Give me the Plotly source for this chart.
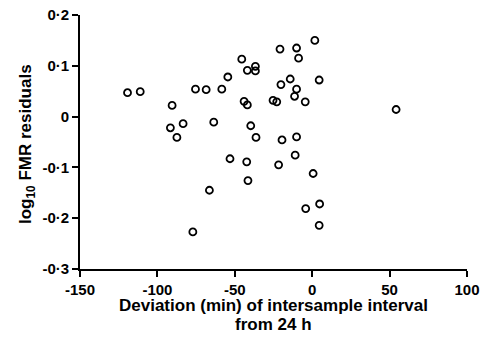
import plotly.graph_objects as go

# Data
deviation_min = [-119.3, -111.1, -90.5, -75.4, -68.5, -58.4, -54.5, -45.5, -41.9, -36.7,
                 -36.7, -44.0, -41.9, -25.3, -22.9, -20.8, -20.2, -14.2, -10.1, -8.8,
                 -10.1, -11.4, -91.6, -83.4, -63.6, -39.7, -87.4, -36.3, -19.5, -10.1,
                 1.7, 4.5, -4.5, 54.2, -53.1, -42.3, -21.7, -11.0, -41.5, -66.4,
                 -77.1, 0.6, 4.8, -4.2, 4.5]
fmr_residuals = [0.047, 0.049, 0.022, 0.054, 0.053, 0.054, 0.078, 0.113, 0.091, 0.099,
                 0.090, 0.030, 0.023, 0.032, 0.029, 0.133, 0.063, 0.074, 0.135, 0.115,
                 0.054, 0.040, -0.022, -0.014, -0.011, -0.018, -0.041, -0.041, -0.046, -0.040,
                 0.150, 0.072, 0.029, 0.014, -0.083, -0.089, -0.095, -0.076, -0.126, -0.145,
                 -0.227, -0.112, -0.172, -0.181, -0.214]

x_tickvals = [-150, -100, -50, 0, 50, 100]
x_ticktext = ["-150", "-100", "-50", "0", "50", "100"]
y_tickvals = [0.2, 0.1, 0, -0.1, -0.2, -0.3]
y_ticktext = ["0·2", "0·1", "0", "-0·1", "-0·2", "-0·3"]

FONT = "Liberation Sans, Arial, Helvetica, sans-serif"

fig = go.Figure()
fig.add_trace(go.Scatter(
    x=deviation_min, y=fmr_residuals, mode="markers",
    marker=dict(symbol="circle-open", size=7, color="black", line=dict(width=1.8, color="black")),
    showlegend=False, cliponaxis=False, hoverinfo="skip",
))

axis_common = dict(
    showline=True, linecolor="black", linewidth=1.8, showgrid=False, zeroline=False,
    ticks="outside", ticklen=6, tickwidth=1.6, tickcolor="black", automargin=False,
    ticklabeloverflow="allow",
    tickfont=dict(family=FONT, size=15, color="black"),
)

fig.update_layout(
    width=482, height=343,
    margin=dict(l=80, r=15, t=15, b=74, autoexpand=False),
    paper_bgcolor="white", plot_bgcolor="white",
    xaxis=dict(range=[-150, 100], tickmode="array", tickvals=x_tickvals,
               ticktext=["<b>%s</b>" % t for t in x_ticktext], **axis_common),
    yaxis=dict(range=[-0.3, 0.2], tickmode="array", tickvals=y_tickvals,
               ticktext=["<b>%s</b>" % t for t in y_ticktext], **axis_common),
    annotations=[
        dict(text="<b>Deviation (min) of intersample interval</b>", xref="paper", yref="paper",
             x=0.5, y=-0.143, xanchor="center", yanchor="middle", showarrow=False,
             font=dict(family=FONT, size=17, color="black")),
        dict(text="<b>from 24 h</b>", xref="paper", yref="paper",
             x=0.5, y=-0.218, xanchor="center", yanchor="middle", showarrow=False,
             font=dict(family=FONT, size=17, color="black")),
        dict(text="<b>log<sub>10</sub> FMR residuals</b>", xref="paper", yref="paper",
             x=-0.137, y=0.492, xanchor="center", yanchor="middle", showarrow=False,
             textangle=-90,
             font=dict(family=FONT, size=17, color="black")),
    ],
)

# remove the default 8px page margin so the 482x343 figure fills the window exactly
fig.write_html(
    "out.html",
    config={"displayModeBar": False},
    post_script="document.body.style.margin='0';document.body.style.overflow='hidden';",
)
